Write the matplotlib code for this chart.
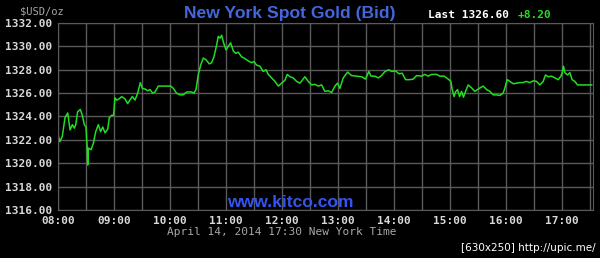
import numpy as np
import matplotlib.pyplot as plt

# minutes after 08:00 and bid price
minutes = [0, 2, 4.6, 7.5, 10.4, 12.9, 15.4, 17.5, 19, 21, 23.9, 26, 28.2, 30,
           31.4, 31.8, 32.5, 35.4, 37.9, 40.4, 43.2, 45.7, 47.9, 50.4, 53.2, 55,
           57.5, 59.6, 61, 62.9, 65.4, 68.2, 71.8, 74.6, 77, 79.6, 82.5, 85.4,
           88.2, 90.4, 93.2, 96, 98.6, 101.4, 104, 107.5, 111, 116.5, 121, 123.6,
           127, 130.7, 134, 138, 143, 145.7, 147.9, 150.4, 152.9, 155.7, 158.6,
           162.1, 164.6, 167.1, 170, 171.7, 173.6, 175.4, 177.1, 180, 182.5, 185,
           187.9, 190.7, 193.2, 196.8, 199.3, 202.1, 205, 207.5, 210, 212.8,
           216.4, 220, 222.9, 225.4, 229, 232.5, 236.1, 239.7, 243.2, 245.7,
           248.6, 252.1, 255.7, 259.3, 264.6, 268.2, 271.8, 275.4, 279, 282.5,
           286, 289.6, 293.2, 296.8, 299.6, 302.1, 305.7, 310.4, 314.6, 320,
           325.4, 329.6, 333.2, 335.4, 339.6, 343.2, 346.8, 350.4, 354.6, 357.5,
           361.8, 365.4, 368.9, 372.5, 377.1, 380.7, 384.3, 389.6, 393.2, 396.8,
           400.4, 405.7, 409.3, 413.9, 418.2, 421.1, 422.5, 424.6, 426, 428.2,
           430.4, 432.5, 434.6, 436.8, 439.6, 443.2, 446.8, 450.4, 455.7, 459.3,
           462.9, 466.4, 470, 473.6, 477.1, 479, 481.4, 484.3, 487.9, 491.4, 495,
           498.6, 502, 505.7, 509.3, 512.9, 516.4, 520, 522.5, 525.4, 529, 532.5,
           536.1, 539, 540.4, 541.8, 543.2, 546.1, 548.6, 551, 553.9, 556.8,
           559.3, 572]
prices = [1322.4, 1321.85, 1322.3, 1323.9, 1324.3, 1322.85, 1323.3, 1323.0,
          1323.3, 1324.4, 1324.6, 1324.1, 1323.3, 1323.1, 1321.1, 1319.85,
          1321.3, 1321.15, 1321.7, 1322.7, 1323.3, 1322.7, 1323.1, 1322.6,
          1322.9, 1323.9, 1324.1, 1324.1, 1325.6, 1325.4, 1325.5, 1325.7,
          1325.5, 1325.1, 1325.4, 1325.7, 1325.4, 1326.0, 1326.9, 1326.4,
          1326.35, 1326.2, 1326.3, 1326.0, 1326.1, 1326.6, 1326.6, 1326.6,
          1326.6, 1326.4, 1326.0, 1325.85, 1325.85, 1326.1, 1326.1, 1326.0,
          1326.3, 1327.6, 1328.4, 1329.0, 1328.85, 1328.5, 1328.6, 1329.1,
          1330.1, 1330.85, 1330.7, 1330.95, 1330.4, 1329.7, 1330.0, 1330.3,
          1329.6, 1329.4, 1329.5, 1329.1, 1329.0, 1328.85, 1328.7, 1328.6,
          1328.7, 1328.4, 1328.3, 1327.85, 1328.0, 1327.6, 1327.3, 1327.0,
          1326.6, 1326.85, 1327.1, 1327.6, 1327.4, 1327.3, 1327.0, 1326.85,
          1327.4, 1327.0, 1326.7, 1326.75, 1326.6, 1326.7, 1326.15, 1326.2,
          1326.05, 1326.6, 1326.85, 1326.4, 1327.3, 1327.8, 1327.5, 1327.45,
          1327.4, 1327.2, 1327.85, 1327.45, 1327.45, 1327.3, 1327.5, 1327.85,
          1328.0, 1327.85, 1327.9, 1327.65, 1327.7, 1327.15, 1327.15, 1327.2,
          1327.5, 1327.45, 1327.6, 1327.45, 1327.6, 1327.6, 1327.45, 1327.45,
          1327.2, 1327.0, 1326.3, 1325.7, 1326.1, 1326.3, 1325.7, 1326.15,
          1325.65, 1326.15, 1326.7, 1326.45, 1326.15, 1326.35, 1326.6, 1326.3,
          1326.15, 1325.85, 1325.85, 1325.8, 1326.0, 1326.45, 1327.15, 1327.0,
          1326.8, 1326.85, 1326.9, 1326.9, 1327.0, 1326.9, 1327.05, 1327.0,
          1326.7, 1327.0, 1327.55, 1327.4, 1327.45, 1327.3, 1327.15, 1327.45,
          1327.75, 1328.3, 1327.75, 1327.55, 1327.75, 1327.15, 1327.0, 1326.7,
          1326.7, 1326.7]

hour_labels = ['08:00', '09:00', '10:00', '11:00', '12:00', '13:00', '14:00',
               '15:00', '16:00', '17:00']
y_ticks = [1316, 1318, 1320, 1322, 1324, 1326, 1328, 1330, 1332]

fig = plt.figure(figsize=(6, 2.58), dpi=100, facecolor='black')
ax = fig.add_axes([0.0967, 0.186, 0.891, 0.725])
ax.set_facecolor('black')

ax.plot(minutes, prices, color='#22dd22', linewidth=1.1)

ax.set_xlim(0, 573)
ax.set_ylim(1316, 1332)
ax.set_xticks(np.arange(len(hour_labels)) * 60)
ax.set_xticklabels(hour_labels)
ax.set_xticks(np.arange(30, 573, 60), minor=True)
ax.set_yticks(y_ticks)
ax.set_yticklabels(['%.2f' % v for v in y_ticks])

ax.grid(True, which='both', color='#5a5a5a', linewidth=1.0)
ax.set_axisbelow(True)
ax.tick_params(which='both', length=0, pad=4, colors='#d8d8d8')
for lab in ax.get_xticklabels() + ax.get_yticklabels():
    lab.set_family('DejaVu Sans Mono')
    lab.set_fontweight('bold')
    lab.set_fontsize(8)
for sp in ax.spines.values():
    sp.set_color('#5a5a5a')

# texts around the chart
fig.text(0.483, 0.948, 'New York Spot Gold (Bid)', color='#4466dd',
         family='Liberation Sans', fontweight='bold', fontsize=12.6,
         ha='center', va='center')
fig.text(0.033, 0.955, '$USD/oz', color='#a8a8a8', family='DejaVu Sans Mono',
         fontsize=7.5, ha='left', va='center')
fig.text(0.713, 0.94, 'Last 1326.60', color='white', family='DejaVu Sans Mono',
         fontweight='bold', fontsize=8, ha='left', va='center')
fig.text(0.862, 0.94, '+8.20', color='#22dd22', family='DejaVu Sans Mono',
         fontweight='bold', fontsize=8, ha='left', va='center')
fig.text(0.483, 0.215, 'www.kitco.com', color='#3355ee',
         family='Liberation Sans', fontweight='bold', fontsize=12.6,
         ha='center', va='center')
fig.text(0.47, 0.1, 'April 14, 2014 17:30 New York Time', color='#a8a8a8',
         family='DejaVu Sans Mono', fontsize=8, ha='center', va='center')
fig.text(0.993, 0.04, '[630x250] http://upic.me/', color='white',
         family='DejaVu Sans', fontsize=7.5, ha='right', va='center')

fig.savefig('out.png', dpi=100, facecolor='black')
